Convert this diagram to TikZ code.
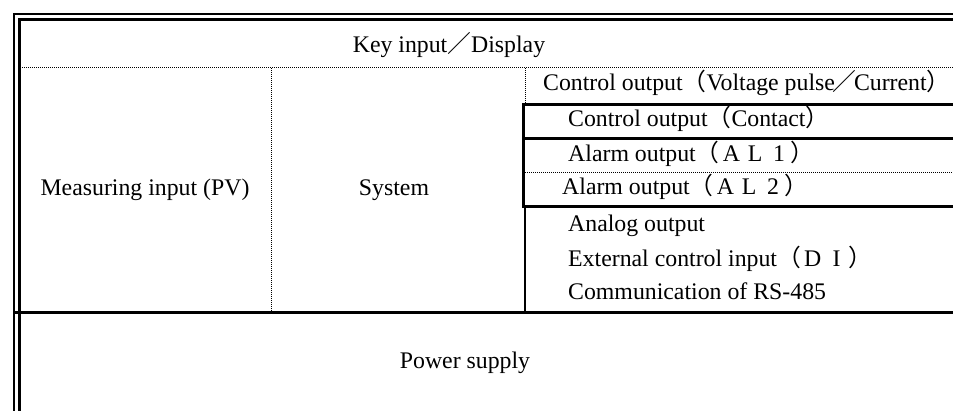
\documentclass[tikz,border=0pt]{standalone}
\usepackage{fontspec}
\setmainfont{Liberation Serif}
\newfontfamily\cjk{Noto Sans CJK JP}
\newcommand{\fwc}[1]{{\cjk #1}}
\newcommand{\fwl}[1]{\makebox[1em]{#1}}
\newcommand{\fwclose}{\makebox[0.5em][l]{\cjk ）}}
\newcommand{\fwslash}{\makebox[0.8em]{\cjk ／}}
\begin{document}
\begin{tikzpicture}[x=1pt,y=-1pt,
  txt/.style={font=\fontsize{23.8}{28}\selectfont, inner sep=0pt},
  thickrule/.style={line width=3pt},
  dotrule/.style={line width=1pt, dash pattern=on 1pt off 1pt},
  frameline/.style={line width=2.4pt}]
\useasboundingbox (0,0) rectangle (953,411);
\clip (0,0) rectangle (953,411);
% frame
\draw[frameline] (14,420) -- (14,14) -- (960,14);
\draw[frameline] (19.5,420) -- (19.5,19.5) -- (960,19.5);
% rules
\draw[dotrule] (20,68) -- (960,68);
\draw[dotrule] (271,68) -- (271,311);
\draw[dotrule] (525,68) -- (525,103);
\draw[thickrule] (960,104.5) -- (523.5,104.5) -- (523.5,207) -- (960,207);
\draw[thickrule] (523.5,138.5) -- (960,138.5);
\draw[dotrule] (525,173) -- (960,173);
\draw[line width=1.5pt] (525,207) -- (525,312);
\draw[thickrule] (15,312.5) -- (960,312.5);
% texts
\node[txt, anchor=base] (key) at (449,53) {Key input\fwc{／}Display};
\node[txt, anchor=base] (pv) at (145,196) {Measuring input (PV)};
\node[txt, anchor=base] (sys) at (394,196) {System};
\node[txt, anchor=base west] (cv) at (543,91) {Control output\fwc{（}Voltage pulse\fwslash Current\fwclose};
\node[txt, anchor=base west] (cc) at (568,127) {Control output\fwc{（}Contact\fwclose};
\node[txt, anchor=base west] (al1) at (568,161.5) {Alarm output\fwc{（}\fwl{A}\fwl{L}\fwl{1}\fwclose};
\node[txt, anchor=base west] (al2) at (562,195) {Alarm output\fwc{（}\fwl{A}\fwl{L}\fwl{2}\fwclose};
\node[txt, anchor=base west] (ao) at (568,232) {Analog output};
\node[txt, anchor=base west] (di) at (568,267) {External control input\fwc{（}\fwl{D}\fwl{I}\fwclose};
\node[txt, anchor=base west] (rs) at (568,300) {Communication of RS-485};
\node[txt, anchor=base] (ps) at (465,369) {Power supply};
\end{tikzpicture}
\end{document}
